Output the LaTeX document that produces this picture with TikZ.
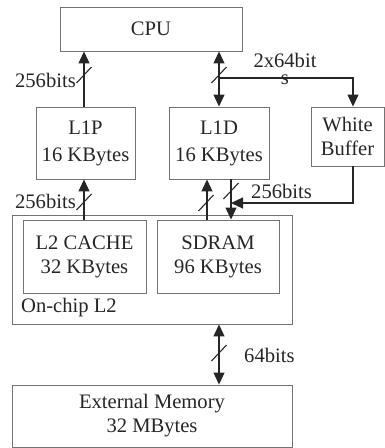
\documentclass[tikz,border=0pt]{standalone}
\usepackage{fontspec}
\setmainfont{Liberation Serif}
\usetikzlibrary{arrows.meta,calc}
\begin{document}
\begin{tikzpicture}[x=1pt,y=-1pt,
  box/.style={draw=black!55,line width=0.9pt,rectangle,inner sep=0pt,align=center,
    font=\fontsize{20.6}{24}\selectfont,text=black!85},
  conn/.style={draw=black!85,line width=1.1pt},
  tip/.style={-{Triangle[length=12pt,width=11pt]}},
  dtip/.style={{Triangle[length=12pt,width=11pt]}-{Triangle[length=12pt,width=11pt]}},
  lbl/.style={font=\fontsize{20.6}{24}\selectfont,text=black!85,inner sep=0pt},
  pics/busslash/.style={code={\draw[black!85,line width=1.1pt] (-7.5,8) -- (7.5,-8);}}]
\useasboundingbox (0,0) rectangle (385,448);
% boxes
\node[box,minimum width=182pt,minimum height=44pt] (cpu) at (151,29) {CPU};
\node[box,minimum width=99pt,minimum height=72pt,font=\fontsize{20.6}{27}\selectfont] (l1p) at (85.5,143) {L1P\\16 KBytes};
\node[box,minimum width=100pt,minimum height=72pt,font=\fontsize{20.6}{27}\selectfont] (l1d) at (219,143) {L1D\\16 KBytes};
\node[box,minimum width=73pt,minimum height=59pt] (wb) at (347.5,136.5) {White\\Buffer};
\node[box,minimum width=280pt,minimum height=109pt] (l2) at (152,269.5) {};
\node[box,minimum width=123pt,minimum height=73pt] (l2c) at (84.5,256.5) {L2 CACHE\\32 KBytes};
\node[box,minimum width=122pt,minimum height=73pt] (sdram) at (218,256.5) {SDRAM\\96 KBytes};
\node[lbl,anchor=west] (onchip) at (21,308) {On-chip L2};
\node[box,minimum width=280pt,minimum height=62pt] (ext) at (152,416) {External Memory\\32 MBytes};
% connectors
\draw[conn,tip] (l1p.north -| 84,0) -- (cpu.south -| 84,0);
\draw[conn,tip] (l2c.north -| 84,0) -- (l1p.south -| 84,0);
\draw[conn,dtip] (cpu.south -| l1d.north) -- (l1d.north);
\coordinate (j) at (219,78);
\draw[conn,tip] (j) -| ([xshift=5.5pt]wb.north);
\draw[conn,tip] (l1d.south -| 231,0) -- (sdram.north -| 231,0);
\draw[conn,tip] (sdram.north -| 207,0) -- (l1d.south -| 207,0);
\coordinate (m) at (231,203);
\draw[conn,tip] ([xshift=5.5pt]wb.south) |- (m);
\draw[conn,dtip] (l2.south -| 219,0) -- (ext.north -| 219,0);
% bus slashes
\pic at (84,75) {busslash};
\pic at (84,202) {busslash};
\pic at (219,75) {busslash};
\pic at (206,203) {busslash};
\pic at (231,191) {busslash};
\pic at (219,353) {busslash};
% labels
\node[lbl,anchor=east] (b1) at (76,80) {256bits};
\node[lbl,anchor=east] (b2) at (76,201) {256bits};
\node[lbl,anchor=west] (b3) at (251,191) {256bits};
\node[lbl] (b4) at (285,60) {2x64bit};
\node[lbl] (b4s) at (285,80) {s};
\node[lbl,anchor=west] (b5) at (244,355) {64bits};
\end{tikzpicture}
\end{document}
